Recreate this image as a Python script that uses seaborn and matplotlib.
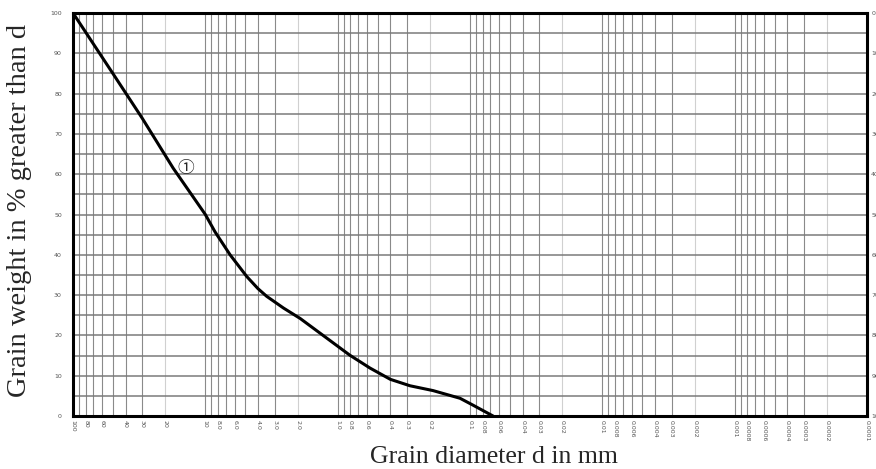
import numpy as np
import pandas as pd
import matplotlib
matplotlib.use("Agg")
import matplotlib.pyplot as plt
import seaborn as sns

# grain size curve (d in mm, % greater than d)
diameter = [100, 50, 30, 17.5, 10.0, 8.45, 6.5, 4.86, 4.0, 3.44, 2.57, 1.92,
            0.81, 0.57, 0.40, 0.284, 0.19, 0.119, 0.095, 0.067]
percent = [100, 85.0, 73.9, 61.5, 50, 45.7, 40, 34.6, 31.6, 29.7, 26.8, 24.2,
           15.1, 11.9, 9.1, 7.5, 6.3, 4.4, 2.7, 0]

tick_values = [100, 80, 60, 40, 30, 20, 10, 8, 6, 4, 3, 2, 1, 0.8, 0.6, 0.4, 0.3, 0.2,
               0.1, 0.08, 0.06, 0.04, 0.03, 0.02, 0.01, 0.008, 0.006, 0.004, 0.003, 0.002,
               0.001, 0.0008, 0.0006, 0.0004, 0.0003, 0.0002, 0.0001]
tick_labels = ["100", "80", "60", "40", "30", "20", "10", "8.0", "6.0", "4.0", "3.0", "2.0",
               "1.0", "0.8", "0.6", "0.4", "0.3", "0.2", "0.1", "0.08", "0.06", "0.04",
               "0.03", "0.02", "0.01", "0.008", "0.006", "0.004", "0.003", "0.002",
               "0.001", "0.0008", "0.0006", "0.0004", "0.0003", "0.0002", "0.0001"]
y_ticks = list(range(0, 101, 10))

df = pd.DataFrame({"d": diameter, "p": percent})

sns.set_style("white")
fig = plt.figure(figsize=(8.76, 4.69), dpi=100)
ax = fig.add_axes([73 / 876, 1 - 416 / 469, (867 - 73) / 876, (416 - 13) / 469])

ax.set_xscale("log")
ax.set_xlim(100, 0.0001)
ax.set_ylim(0, 100)

# grid: every 1..9 of each decade, lighter at the 2s
for e in range(-4, 2):
    for m in range(1, 10):
        v = m * 10.0 ** e
        if v <= 0.0001 or v >= 100:
            continue
        col = "#d0d0d0" if m == 2 else "#8a8a8a"
        ax.axvline(v, color=col, lw=0.8, zorder=1)
for yv in range(5, 100, 5):
    ax.axhline(yv, color="#7a7a7a", lw=1.1, zorder=1)

sns.lineplot(data=df, x="d", y="p", ax=ax, color="black", lw=2.2, zorder=3)

ax.text(14.0, 61.3, "\u2460", fontsize=12, ha="center", va="center",
        family=["Liberation Serif", "Noto Sans CJK SC", "DejaVu Sans"], zorder=4)

ax.set_xticks(tick_values)
ax.set_xticklabels(tick_labels, rotation=-90, fontsize=4.5, color="#555555")
ax.xaxis.set_minor_locator(matplotlib.ticker.NullLocator())
ax.set_yticks(y_ticks)
ax.set_yticklabels([str(v) for v in y_ticks], fontsize=4.5, color="#555555")
ax.tick_params(axis="both", length=0, pad=8)
ax.tick_params(axis="x", pad=3)

for s in ax.spines.values():
    s.set_visible(True)
    s.set_color("black")
    s.set_linewidth(2.2)

# right-hand scale (reversed), cut by the picture edge as in the original
ax2 = ax.twinx()
ax2.set_ylim(100, 0)
ax2.set_yticks(y_ticks)
ax2.set_yticklabels([str(v) for v in y_ticks], fontsize=4.5, color="#555555")
ax2.tick_params(axis="y", length=0, pad=3)
for s in ax2.spines.values():
    s.set_visible(False)

ax.set_xlabel("Grain diameter d in mm", family="Liberation Serif", fontsize=18.5)
ax.xaxis.set_label_coords(0.530, -0.075)
ax.set_ylabel("Grain weight in % greater than d", family="Liberation Serif",
              fontsize=20.5)
ax.yaxis.set_label_coords(-0.052, 0.511)

fig.savefig("out.png", dpi=100)
